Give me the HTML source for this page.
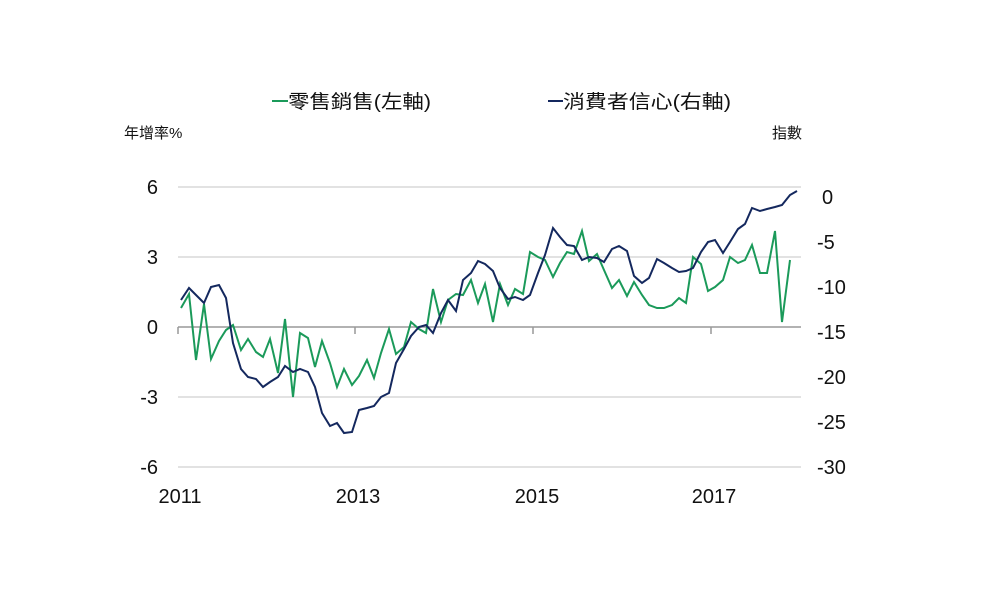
<!DOCTYPE html>
<html><head><meta charset="utf-8"><style>
body{margin:0;background:#fff;}
text{font-family:"Liberation Sans","Noto Sans CJK TC",sans-serif;fill:#111;}
</style></head><body>
<svg width="1000" height="600" viewBox="0 0 1000 600" xmlns="http://www.w3.org/2000/svg">
<rect width="1000" height="600" fill="#fff"/>
<g stroke="#d9d9d9" stroke-width="1.5">
<line x1="178" y1="187" x2="801" y2="187"/>
<line x1="178" y1="257" x2="801" y2="257"/>
<line x1="178" y1="397" x2="801" y2="397"/>
<line x1="178" y1="467" x2="801" y2="467"/>
</g>
<g stroke="#999" stroke-width="1.5">
<line x1="178" y1="327" x2="801" y2="327"/>
<line x1="178" y1="327" x2="178" y2="334"/>
<line x1="355" y1="327" x2="355" y2="334"/>
<line x1="533" y1="327" x2="533" y2="334"/>
<line x1="711" y1="327" x2="711" y2="334"/>
</g>
<polyline fill="none" stroke="#1b9a5a" stroke-width="2" points="181,308 189,294 196,360 204,304 211,359 219,341 226,330 233,325 241,350 248,339 256,352 263,357 270,339 278,373 285,319 293,397 300,333 308,338 315,367 322,341 330,363 337,387 344,369 352,385 359,376 367,360 374,378 381,353 389,329 396,354 404,347 411,322 419,329 426,333 433,289 441,322 448,300 456,294 463,295 471,280 478,303 485,284 493,322 500,284 508,305 515,289 523,294 530,252 538,257 545,260 553,277 560,263 567,252 574,254 582,231 589,261 597,254 604,270 612,288 619,280 627,296 634,282 642,295 649,305 657,308 664,308 672,305 679,298 686,303 693,257 701,264 708,291 715,287 723,280 730,257 738,263 745,260 752,245 760,273 767,273 775,231 782,322 790,260"/>
<polyline fill="none" stroke="#14285e" stroke-width="2" points="181,300 189,288 196,295 204,303 211,287 219,285 226,298 233,343 241,369 248,377 256,379 263,387 270,382 278,377 285,366 293,372 300,369 308,372 315,387 322,413 330,426 337,423 344,433 352,432 359,410 367,408 374,406 381,397 389,393 396,363 404,349 411,336 419,327 426,325 433,333 441,313 448,300 456,311 463,280 471,273 478,261 485,264 493,271 500,288 508,299 515,297 523,300 530,295 538,273 545,255 553,228 560,237 567,245 574,246 582,260 589,257 597,258 604,262 612,249 619,246 627,251 634,276 642,283 649,278 657,259 664,263 672,268 679,272 686,271 693,268 701,252 708,242 715,240 723,253 730,242 738,229 745,224 752,208 760,211 767,209 775,207 782,205 790,195 797,191"/>
<g font-size="20" text-anchor="end">
<text x="158" y="194">6</text><text x="158" y="264">3</text><text x="158" y="334">0</text>
<text x="158" y="404">-3</text><text x="158" y="474">-6</text>
</g>
<g font-size="20" text-anchor="start">
<text x="822" y="204">0</text><text x="817" y="249">-5</text><text x="817" y="294">-10</text>
<text x="817" y="339">-15</text><text x="817" y="384">-20</text><text x="817" y="429">-25</text><text x="817" y="474">-30</text>
</g>
<g font-size="20" text-anchor="middle">
<text x="180" y="503">2011</text><text x="358" y="503">2013</text><text x="537" y="503">2015</text><text x="714" y="503">2017</text>
</g>
<text x="124" y="138" font-size="15">年增率%</text>
<text x="772" y="138" font-size="15">指數</text>
<line x1="272" y1="101" x2="288" y2="101" stroke="#1b9a5a" stroke-width="2"/>
<text x="288" y="108" font-size="19" textLength="143" lengthAdjust="spacingAndGlyphs">零售銷售(左軸)</text>
<line x1="548" y1="101" x2="563" y2="101" stroke="#14285e" stroke-width="2"/>
<text x="563" y="108" font-size="19" textLength="168" lengthAdjust="spacingAndGlyphs">消費者信心(右軸)</text>
</svg>
</body></html>
